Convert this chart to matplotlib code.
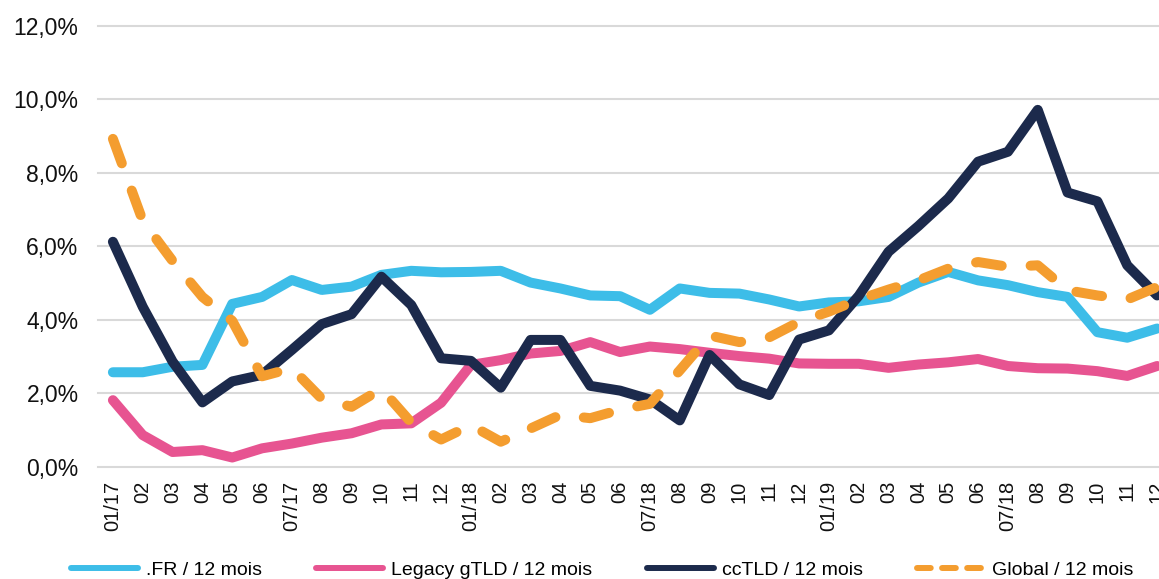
import matplotlib
matplotlib.use('Agg')
import matplotlib.pyplot as plt
from matplotlib.lines import Line2D

plt.rcParams['font.family'] = ['Liberation Sans', 'DejaVu Sans']

# Month labels (36 months, Jan 2017 -> Dec 2019)
months = ['01/17', '02', '03', '04', '05', '06', '07/17', '08', '09', '10', '11', '12',
          '01/18', '02', '03', '04', '05', '06', '07/18', '08', '09', '10', '11', '12',
          '01/19', '02', '03', '04', '05', '06', '07/18', '08', '09', '10', '11', '12']

# Growth over 12 months, in %
fr_12m = [2.57, 2.57, 2.72, 2.77, 4.43, 4.62, 5.08, 4.81, 4.90, 5.22, 5.33, 5.29,
          5.30, 5.33, 5.01, 4.85, 4.66, 4.64, 4.27, 4.85, 4.73, 4.71, 4.55, 4.36,
          4.47, 4.50, 4.62, 5.01, 5.30, 5.07, 4.94, 4.75, 4.62, 3.66, 3.51, 3.76]
legacy_12m = [1.81, 0.86, 0.40, 0.45, 0.25, 0.50, 0.63, 0.79, 0.91, 1.15, 1.18, 1.74,
              2.77, 2.90, 3.08, 3.15, 3.39, 3.12, 3.27, 3.20, 3.10, 3.01, 2.94, 2.81,
              2.80, 2.80, 2.69, 2.78, 2.84, 2.93, 2.74, 2.68, 2.67, 2.60, 2.47, 2.74]
cctld_12m = [6.12, 4.35, 2.86, 1.75, 2.32, 2.50, 3.18, 3.88, 4.15, 5.17, 4.40, 2.95,
             2.88, 2.15, 3.45, 3.45, 2.20, 2.07, 1.83, 1.26, 3.04, 2.24, 1.95, 3.46,
             3.71, 4.65, 5.85, 6.55, 7.30, 8.30, 8.57, 9.71, 7.46, 7.22, 5.48, 4.66]
global_12m = [8.92, 6.69, 5.60, 4.62, 3.97, 2.46, 2.68, 1.85, 1.63, 2.12, 1.20, 0.74,
              1.13, 0.68, 1.04, 1.41, 1.32, 1.55, 1.71, 2.62, 3.57, 3.39, 3.52, 3.94,
              4.22, 4.55, 4.82, 5.07, 5.39, 5.57, 5.44, 5.48, 4.80, 4.66, 4.55, 4.89]

series_names = ['.FR / 12 mois', 'Legacy gTLD / 12 mois', 'ccTLD / 12 mois', 'Global / 12 mois']
series_colors = ['#3DBDE8', '#E75491', '#1C2A4C', '#F49D2F']

y_ticks = [0, 2, 4, 6, 8, 10, 12]
y_tick_labels = ['0,0%', '2,0%', '4,0%', '6,0%', '8,0%', '10,0%', '12,0%']

W, H = 1159, 579
fig = plt.figure(figsize=(W / 100, H / 100), dpi=100)
# plot area runs past the right edge of the image
ax = fig.add_axes([98 / W, (H - 466.7) / H, 1074 / W, 441 / H])

x = list(range(len(months)))
lw = 7.2
for vals, col in zip([fr_12m, legacy_12m, cctld_12m], series_colors[:3]):
    ax.plot(x, vals, color=col, lw=lw, solid_capstyle='round', solid_joinstyle='round')
ax.plot(x, global_12m, color=series_colors[3], lw=lw, linestyle=(0, (2.6, 2.9)),
        dash_capstyle='round', dash_joinstyle='round')

ax.set_xlim(-0.5, len(months) - 0.5)
ax.set_ylim(0, 12)
ax.set_xticks(x)
ax.set_xticklabels(months, rotation=90, fontsize=14.5, color='#111111')
ax.set_yticks(y_ticks)
ax.set_yticklabels(y_tick_labels, fontsize=16.5, color='#111111')
ax.tick_params(axis='both', length=0)
ax.tick_params(axis='x', pad=10)
ax.tick_params(axis='y', pad=14)

ax.grid(axis='y', color='#D9D9D9', lw=1.5)
ax.set_axisbelow(True)
for gl in ax.get_ygridlines():
    gl.set_clip_on(False)
for s in ax.spines.values():
    s.set_visible(False)

handles = [Line2D([], [], color=c, lw=4.3, solid_capstyle='round') for c in series_colors[:3]]
handles.append(Line2D([], [], color=series_colors[3], lw=4.3, linestyle=(0, (2.3, 1.9)),
                      dash_capstyle='round'))
fig.legend(handles, series_names, loc='center left', bbox_to_anchor=(71 / W, (H - 570) / H),
           ncol=4, frameon=False, fontsize=14, borderpad=0, borderaxespad=0,
           handlelength=3.44, handletextpad=0.41, columnspacing=2.8)

fig.savefig('out.png', dpi=100)
